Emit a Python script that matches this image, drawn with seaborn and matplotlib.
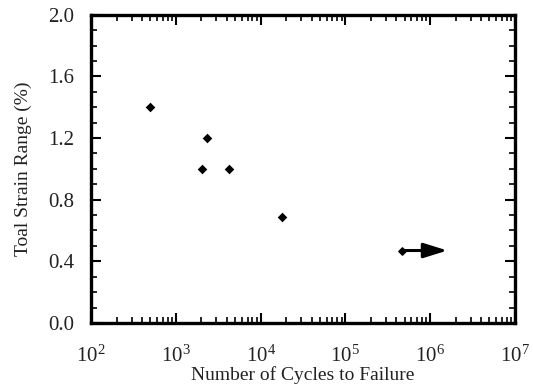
import numpy as np
import pandas as pd
import matplotlib
matplotlib.use("Agg")
import matplotlib.pyplot as plt
import seaborn as sns
from matplotlib.ticker import LogLocator, MultipleLocator

# fatigue data
cycles = [500, 2350, 2050, 4200, 18000]
strain = [1.4, 1.2, 1.0, 1.0, 0.69]

# run-out specimen (did not fail) with arrow
runout_cycles = [460000]
runout_strain = [0.47]
arrow_end_cycles = 1.6e6

sns.set_theme(style="ticks")
plt.rcParams['font.family'] = ['Liberation Serif', 'DejaVu Serif']
plt.rcParams['mathtext.fontset'] = 'custom'
plt.rcParams['mathtext.rm'] = 'Liberation Serif'
plt.rcParams['mathtext.it'] = 'Liberation Serif:italic'

df = pd.DataFrame({'cycles': cycles, 'strain': strain})

fig = plt.figure(figsize=(5.33, 3.9), dpi=100)
ax = fig.add_axes([0.171, 0.172, 0.795, 0.790])

sns.scatterplot(data=df, x='cycles', y='strain', ax=ax, marker='D', s=24,
                color='black', edgecolor='black', linewidth=0, legend=False)
ax.scatter(runout_cycles, runout_strain, marker='D', s=14, color='black', zorder=4)
ax.annotate('', xy=(arrow_end_cycles, runout_strain[0]),
            xytext=(runout_cycles[0], runout_strain[0]),
            arrowprops=dict(arrowstyle='-|>,head_length=0.9,head_width=0.28',
                            color='black', lw=2.2,
                            mutation_scale=16, shrinkA=0, shrinkB=0))

ax.set_xscale('log')
ax.set_xlim(1e2, 1e7)
ax.set_ylim(0.0, 2.0)
ax.yaxis.set_major_locator(MultipleLocator(0.4))
ax.yaxis.set_minor_locator(MultipleLocator(0.1))
ax.xaxis.set_major_locator(LogLocator(base=10, numticks=10))
ax.xaxis.set_minor_locator(LogLocator(base=10, subs=np.arange(2, 10), numticks=20))
ax.yaxis.set_major_formatter(plt.FormatStrFormatter('%.1f'))

ax.tick_params(which='both', direction='in', top=True, right=True,
               color='black', labelsize=15, labelcolor='#222222')
ax.tick_params(which='major', length=7, width=1.5)
ax.tick_params(which='minor', length=4, width=1.2)
ax.tick_params(axis='y', which='major', pad=12)
ax.tick_params(axis='x', which='major', pad=16)
for sp in ax.spines.values():
    sp.set_linewidth(2.4)
    sp.set_color('black')

ax.set_xlabel('Number of Cycles to Failure', fontsize=14, color='#222222', labelpad=0)
ax.set_ylabel('Toal Strain Range (%)', fontsize=14, color='#222222', labelpad=12)

fig.savefig('out.png', dpi=100, facecolor='white')
